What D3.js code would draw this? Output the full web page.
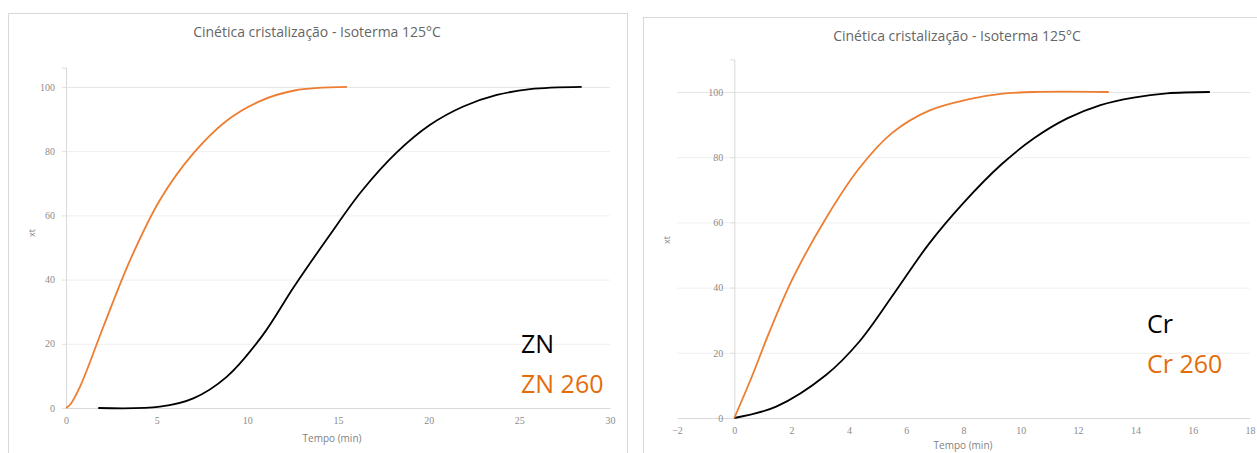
<!DOCTYPE html>
<html><head><meta charset="utf-8">
<script src="https://cdn.jsdelivr.net/npm/d3@7"></script>
<style>body{margin:0;background:#fff}svg{display:block}</style>
</head><body>
<svg id="c" width="1257" height="453"></svg>
<script>
const titleText = "Cinética cristalização  - Isoterma 125°C";
// Left panel data
const znT    = [1.78, 5.18, 7.02, 8.86, 10.8, 12.6, 14.5, 16.3, 18.24, 20.08, 21.91, 23.76, 25.6, 28.44];
const znY    = [0, 0.4, 3, 9.7, 22.3, 38, 53.5, 67.5, 79.6, 88.2, 93.9, 97.5, 99.3, 100];
const zn260T = [0, 0.22, 0.77, 2.06, 3.53, 5.18, 7.02, 8.86, 10.7, 12.6, 15.5];
const zn260Y = [0, 1, 6.6, 25.3, 46, 64.8, 79.3, 89.5, 95.6, 98.9, 100];
const leftXTicks = [0, 5, 10, 15, 20, 25, 30];
const leftYTicks = [0, 20, 40, 60, 80, 100];
// Right panel data
const crT    = [0, 1.46, 3.2, 4.36, 5.6, 6.8, 8.0, 9.3, 10.46, 11.62, 12.78, 13.94, 15.1, 16.6];
const crY    = [0, 3.5, 13.2, 23.4, 38.5, 53.5, 66, 77.6, 85.8, 91.9, 96, 98.3, 99.6, 100];
const cr260T = [0, 0.59, 1.23, 2.04, 3.2, 4.36, 5.53, 6.8, 8.2, 9.3, 10.46, 13.07];
const cr260Y = [0, 12.2, 26.5, 42.8, 61.3, 76.6, 87.6, 94.3, 97.8, 99.4, 100, 100];
const rightXTicks = [-2, 0, 2, 4, 6, 8, 10, 12, 14, 16, 18];
const rightYTicks = [0, 20, 40, 60, 80, 100];

const svg = d3.select("#c");
const ORANGE = "#ED7D31", LEG_ORANGE = "#E46C0A";

function panel(o){
  const g = svg.append("g");
  g.append("rect").attr("x",o.box[0]+0.5).attr("y",o.box[1]+0.5).attr("width",o.box[2]).attr("height",o.box[3])
   .attr("fill","#fff").attr("stroke","#d9d9d9");
  const x = d3.scaleLinear().domain(o.xd).range(o.xr);
  const y = d3.scaleLinear().domain(o.yd).range(o.yr);
  g.selectAll(".grid").data(o.yticks.filter(d=>d>0)).enter().append("line")
   .attr("x1",x(o.xd[0])).attr("x2",x(o.xd[1])).attr("y1",d=>y(d)+0.5).attr("y2",d=>y(d)+0.5)
   .attr("stroke",d=>d===100?"#e6e6e6":"#efefef").attr("stroke-width",1);
  const xa = g.append("g").attr("transform",`translate(0,${y(0)})`)
    .call(d3.axisBottom(x).tickValues(o.xticks).tickSize(0).tickPadding(9).tickFormat(d3.format("d")));
  xa.select(".domain").attr("stroke","#d9d9d9");
  xa.selectAll("text").attr("fill","#8c8c8c").style("font-family","Liberation Serif").style("font-size","10px");
  const ya = g.append("g").attr("transform",`translate(${x(0)},0)`)
    .call(d3.axisLeft(y).tickValues(o.yticks).tickSize(4).tickPadding(7).tickFormat(d3.format("d")));
  ya.select(".domain").attr("stroke","#d9d9d9");
  ya.selectAll(".tick line").attr("stroke","#e0e0e0");
  ya.selectAll("text").attr("fill","#8c8c8c").style("font-family","Liberation Serif").style("font-size","10px");
  g.append("text").attr("x",o.title[0]).attr("y",o.title[1]).attr("text-anchor","middle")
   .style("font-family","Open Sans").style("font-size","14px").attr("fill","#666").text(titleText);
  g.append("text").attr("x",o.xlab[0]).attr("y",o.xlab[1]).attr("text-anchor","middle")
   .style("font-family","Open Sans").style("font-size","10px").attr("fill","#7f7f7f").text("Tempo (min)");
  g.append("text").attr("transform",`translate(${o.ylab[0]},${o.ylab[1]}) rotate(-90)`).attr("text-anchor","middle")
   .style("font-family","Open Sans").style("font-size","9px").attr("fill","#7f7f7f").text("xt");
  const line = d3.line().x(d=>x(d[0])).y(d=>y(d[1])).curve(d3.curveCatmullRom.alpha(0.5));
  o.series.forEach(s=>{
    g.append("path").attr("d",line(d3.zip(s.t,s.y))).attr("fill","none").attr("stroke",s.color).attr("stroke-width",1.8);
  });
  o.legend.forEach(l=>{
    g.append("text").attr("x",l.x).attr("y",l.y).style("font-family","Open Sans").style("font-size","25px")
     .attr("fill",l.color).text(l.text);
  });
}

panel({
  box:[8,13,619,460], xd:[0,30], xr:[66,610], yd:[0,106], yr:[408,67.7],
  xticks:leftXTicks, yticks:leftYTicks, title:[317,37], xlab:[332,442], ylab:[35,233],
  series:[{t:znT,y:znY,color:"#000"},{t:zn260T,y:zn260Y,color:ORANGE}],
  legend:[{x:521,y:353,text:"ZN",color:"#000"},{x:521,y:393,text:"ZN 260",color:LEG_ORANGE}]
});
panel({
  box:[643,17,640,460], xd:[-2,18], xr:[677,1250], yd:[0,110], yr:[418,59.4],
  xticks:rightXTicks, yticks:rightYTicks, title:[957,41], xlab:[963,449], ylab:[670,240],
  series:[{t:crT,y:crY,color:"#000"},{t:cr260T,y:cr260Y,color:ORANGE}],
  legend:[{x:1147,y:333,text:"Cr",color:"#000"},{x:1147,y:373,text:"Cr 260",color:LEG_ORANGE}]
});
</script>
</body></html>
